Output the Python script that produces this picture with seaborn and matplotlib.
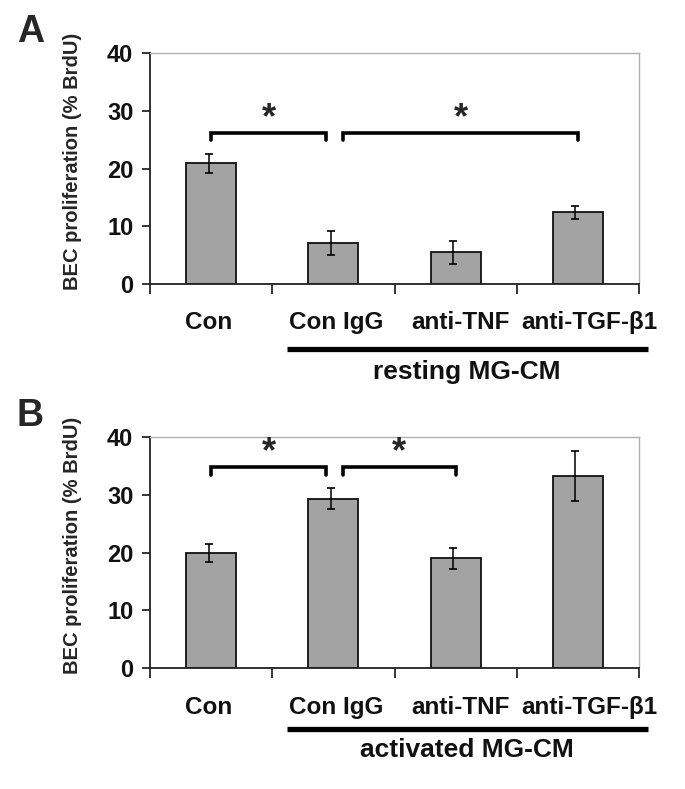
import matplotlib
matplotlib.use("Agg")
import matplotlib.pyplot as plt
import seaborn as sns
import pandas as pd
import numpy as np

categories = ["Con", "Con IgG", "anti-TNF", "anti-TGF-β1"]
resting_mean = [20.9, 7.1, 5.5, 12.4]
resting_err = [1.6, 2.1, 2.0, 1.1]
activated_mean = [19.9, 29.3, 19.0, 33.3]
activated_err = [1.5, 1.8, 1.8, 4.3]
yticks = [0, 10, 20, 30, 40]
group_labels = ["resting MG-CM", "activated MG-CM"]
panel_labels = ["A", "B"]
# significance brackets: (x_start, x_end, height)
sig_A = [(0.0, 0.94, 26.2), (1.08, 3.0, 26.2)]
sig_B = [(0.0, 0.94, 34.8), (1.08, 2.0, 34.8)]

sns.set_theme(style="white")
plt.rcParams['font.family'] = ["Liberation Sans", "DejaVu Sans"]

fig = plt.figure(figsize=(6.85, 7.89), dpi=100)
H = 789.0
W = 685.0
axA = fig.add_axes([150/W, 1-284/H, (639-150)/W, 231/H])
axB = fig.add_axes([150/W, 1-668/H, (639-150)/W, 231/H])

def draw(ax, means, errs, sigs, group, label, lab_y, line_y, grp_y):
    df = pd.DataFrame({"cat": categories, "val": means})
    sns.barplot(data=df, x="cat", y="val", ax=ax, color="#a3a3a3", saturation=1,
                width=0.41, edgecolor="#111111", linewidth=1.3, errorbar=None)
    ax.errorbar(np.arange(len(categories)) - 0.02, means, yerr=errs, fmt="none",
                ecolor="black", elinewidth=1.1, capsize=3, capthick=1.2)
    ax.set_ylim(0, 40)
    ax.set_xlim(-0.5, 3.5)
    ax.set_yticks(yticks)
    ax.set_yticklabels([str(t) for t in yticks], fontsize=17, fontweight="bold", color="#111111")
    ax.set_xticks([-0.5, 0.5, 1.5, 2.5, 3.5])
    ax.set_xticklabels([])
    ax.tick_params(axis="y", direction="out", length=6, width=1.1, color="black", pad=6, left=True)
    ax.tick_params(axis="x", direction="out", length=7, width=1.1, color="black", bottom=True)
    ax.set_xlabel("")
    ax.set_ylabel("BEC proliferation (% BrdU)", fontsize=14.5, fontweight="bold")
    ax.yaxis.set_label_coords(-0.14, 0.53)
    for s in ["left", "bottom"]:
        ax.spines[s].set_color("#222222")
        ax.spines[s].set_linewidth(1.3)
    for s in ["top", "right"]:
        ax.spines[s].set_color("#b0b0b0")
        ax.spines[s].set_linewidth(1.0)
    offs = [-0.02, 0.02, 0.04, 0.09]
    for i, c in enumerate(categories):
        ax.text(i + offs[i], lab_y, c, transform=ax.get_xaxis_transform(), ha="center",
                va="center", fontsize=17.5, fontweight="bold", color="#111111")
    for x0, x1, h in sigs:
        ax.plot([x0, x0, x1, x1], [h - 1.3, h, h, h - 1.3], color="black", lw=2.6,
                solid_joinstyle="miter", clip_on=False)
        ax.text((x0 + x1) / 2, h - 0.6, "*", ha="center", va="bottom", fontsize=26,
                fontweight="bold")
    ax.plot([0.62, 3.57], [line_y, line_y], transform=ax.get_xaxis_transform(),
            color="black", lw=3.8, clip_on=False, solid_capstyle="butt")
    ax.text(2.09, grp_y, group, transform=ax.get_xaxis_transform(), ha="center",
            va="center", fontsize=19, fontweight="bold", color="#111111")
    ax.text(-0.245, 1.09, label, transform=ax.transAxes, ha="center", va="center",
            fontsize=27, fontweight="bold")

draw(axA, resting_mean, resting_err, sig_A, group_labels[0], panel_labels[0],
     -0.165, -0.281, -0.381)
draw(axB, activated_mean, activated_err, sig_B, group_labels[1], panel_labels[1],
     -0.169, -0.262, -0.357)

fig.savefig("out.png", dpi=100)
